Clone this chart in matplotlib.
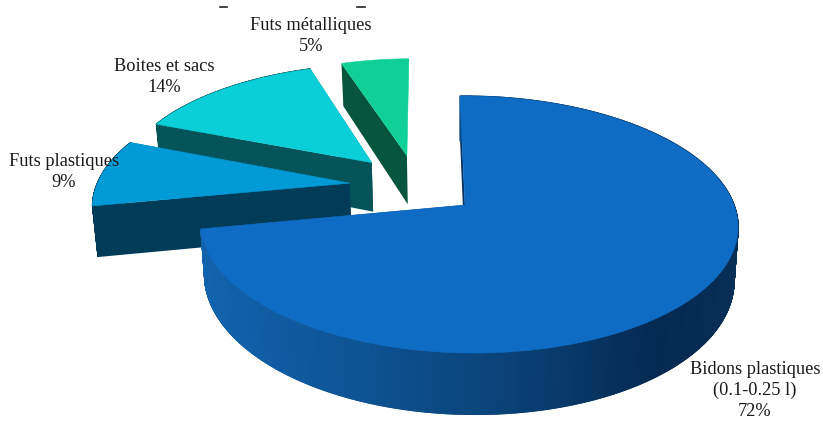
import numpy as np
import matplotlib

matplotlib.use('Agg')
import matplotlib.pyplot as plt
from matplotlib.colors import to_rgb
from matplotlib.patches import Polygon

labels = ['Bidons plastiques\n(0.1-0.25 l)', 'Futs plastiques', 'Boites et sacs', 'Futs métalliques']
shares = [72, 9, 14, 5]

face_colors = ['#0F6CC4', '#009BD6', '#0ACFD8', '#10D098']
wall_colors = ['#0A3563', '#003B58', '#04545A', '#07553C']

# disc offset of each slice, in radius units (x to the right, y to the viewer)
explode_x = [0.0, -0.445, -0.365, -0.225]
explode_y = [0.0, -0.18, -0.358, -0.42]
label_xy = [(755, 390), (64, 172), (164, 77), (311, 36)]
line_step = 21

# projection of the disc onto the page
X0, Y0 = 465, 205
RX, RY = 265.5, 125.5
TILT, SKEW, SHEAR = 0.152, 0.013, 5
DEPTH = 52


def project(u, v):
    w = 1 - TILT * v - SKEW * u
    return X0 + RX * u / w + SHEAR * v, Y0 + RY * v / w


def extrude(u, v):
    w = 1 - TILT * v - SKEW * u
    x, y = project(u, v)
    return X0 + (x - X0) * 0.985, y + DEPTH / w


def big_wall_color(x):
    stops = [205, 340, 500, 660, 740]
    cols = np.array([to_rgb(c) for c in ['#1163AE', '#0E5596', '#0A4379', '#052A52', '#0A2F57']])
    return [np.interp(x, stops, cols[:, i]) for i in range(3)]


fig = plt.figure(figsize=(8.23, 4.21), dpi=100)
ax = fig.add_axes([0, 0, 1, 1])
ax.set_xlim(0, 823)
ax.set_ylim(421, 0)
ax.axis('off')

angles = np.radians(np.cumsum([0] + shares) * 3.6)
order = [3, 2, 1, 0]  # far slices first
z = 1
for i in order:
    th = np.linspace(angles[i], angles[i + 1], max(int(shares[i] * 20), 12))
    u = explode_x[i] + np.sin(th)
    v = explode_y[i] - np.cos(th)
    cu, cv = explode_x[i], explode_y[i]

    # radial side walls, the last slice only shows the one on its left
    edges = [(u[0], v[0]), (u[-1], v[-1])]
    if i == 3:
        edges = edges[:1]
    for eu, ev in edges:
        pts = [project(cu, cv), project(eu, ev), extrude(eu, ev), extrude(cu, cv)]
        ax.add_patch(Polygon(pts, closed=True, fc=wall_colors[i], ec='none', zorder=z))

    # curved wall, split in small strips so it can be shaded
    if i != 3:
        for j in range(len(th) - 1):
            pts = [project(u[j], v[j]), project(u[j + 1], v[j + 1]),
                   extrude(u[j + 1], v[j + 1]), extrude(u[j], v[j])]
            c = big_wall_color(pts[0][0]) if i == 0 else wall_colors[i]
            ax.add_patch(Polygon(pts, closed=True, fc=c, ec=c, lw=1.0, zorder=z))

    top = [project(cu, cv)] + [project(a, b) for a, b in zip(u, v)]
    ax.add_patch(Polygon(top, closed=True, fc=face_colors[i], ec=face_colors[i], lw=0.4, zorder=z + 0.5))
    z += 1

font = {'family': ['Liberation Serif', 'DejaVu Serif'], 'size': 13.2, 'color': '#1a1a1a'}
for name, share, (x, y) in zip(labels, shares, label_xy):
    rows = f'{name}\n{share}%'.split('\n')
    y0 = y - line_step * (len(rows) - 1) / 2
    for k, row in enumerate(rows):
        ax.text(x, y0 + k * line_step, row, ha='center', va='center', zorder=10, **font)

# bits of the heading cut off by the top edge
ax.plot([220, 227], [7, 7], color='#222222', lw=1.2, zorder=10)
ax.plot([357, 365], [7, 7], color='#222222', lw=1.2, zorder=10)

fig.savefig('out.png', dpi=100)
